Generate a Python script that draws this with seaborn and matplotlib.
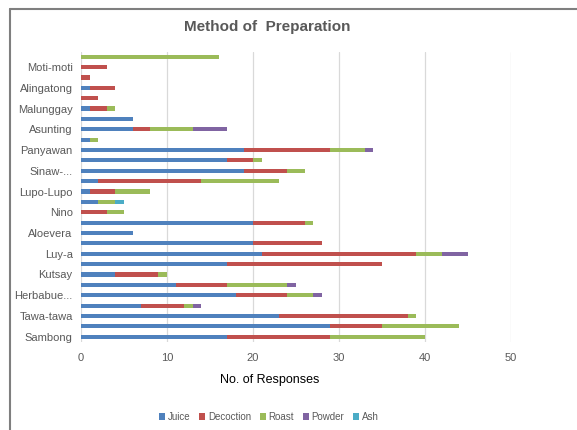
import numpy as np
import pandas as pd
import matplotlib
matplotlib.use("Agg")
import matplotlib.pyplot as plt
from matplotlib.lines import Line2D
from matplotlib.patches import Patch
import seaborn as sns

# Plant rows, listed bottom to top; only every other row carries a label
plant_labels = [
    "Sambong", "", "Tawa-tawa", "", "Herbabue...", "", "Kutsay", "",
    "Luy-a", "", "Aloevera", "", "Nino", "", "Lupo-Lupo", "", "Sinaw-...", "",
    "Panyawan", "", "Asunting", "", "Malunggay", "", "Alingatong", "",
    "Moti-moti", "",
]

# Number of responses per preparation method (same row order as above)
juice = [17, 29, 23, 7, 18, 11, 4, 17, 21, 20, 6, 20, 0, 2, 1, 2, 19, 17,
         19, 1, 6, 6, 1, 0, 1, 0, 0, 0]
decoction = [12, 6, 15, 5, 6, 6, 5, 18, 18, 8, 0, 6, 3, 0, 3, 12, 5, 3,
             10, 0, 2, 0, 2, 2, 3, 1, 3, 0]
roast = [11, 9, 1, 1, 3, 7, 1, 0, 3, 0, 0, 1, 2, 2, 4, 9, 2, 1,
         4, 1, 5, 0, 1, 0, 0, 0, 0, 16]
powder = [0, 0, 0, 1, 1, 1, 0, 0, 3, 0, 0, 0, 0, 0, 0, 0, 0, 0,
          1, 0, 4, 0, 0, 0, 0, 0, 0, 0]
ash = [0, 0, 0, 0, 0, 0, 0, 0, 0, 0, 0, 0, 0, 1, 0, 0, 0, 0,
       0, 0, 0, 0, 0, 0, 0, 0, 0, 0]

methods = ["Juice", "Decoction", "Roast", "Powder", "Ash"]
colors = ["#4F81BD", "#C0504D", "#9BBB59", "#8064A2", "#4BACC6"]
text_gray = "#595959"

series = [juice, decoction, roast, powder, ash]
rows = [str(i) for i in range(len(plant_labels))]
# Top row first so that the bottom row ends up at the bottom of the axis
order = rows[::-1]

cum = np.cumsum(np.array(series, dtype=float), axis=0)
df = pd.DataFrame({"row": rows})
for m, c in zip(methods, cum):
    df[m] = c

sns.set_theme(style="white")
plt.rcParams["font.family"] = ["Liberation Sans", "DejaVu Sans"]

fig = plt.figure(figsize=(5.77, 4.30), dpi=100)
ax = fig.add_axes([81 / 577, 1 - 341.9 / 430, 430 / 577, 290.4 / 430])

# Stacked bars: draw cumulative totals from the outermost segment inward
for m, col in reversed(list(zip(methods, colors))):
    sns.barplot(data=df, x=m, y="row", order=order, orient="h",
                color=col, width=0.4, saturation=1, ax=ax, linewidth=0)

ax.set_xlim(0, 50)
ax.set_xticks(range(0, 51, 10))
ax.set_yticks(range(len(order)))
ax.set_yticklabels(plant_labels[::-1])
ax.set_xlabel("")
ax.set_ylabel("")
ax.xaxis.grid(True, color="#D9D9D9", linewidth=0.9)
ax.set_axisbelow(True)
for s in ax.spines.values():
    s.set_visible(False)
ax.tick_params(axis="both", length=0, colors=text_gray, labelsize=8)
ax.tick_params(axis="x", pad=8)
ax.tick_params(axis="y", pad=6)

fig.text(267 / 577, 1 - 27 / 430, "Method of  Preparation", ha="center",
         va="center", fontsize=11, fontweight="bold", color=text_gray)
fig.text(270 / 577, 1 - 380 / 430, "No. of Responses", ha="center",
         va="center", fontsize=9, color="black")

handles = [Patch(facecolor=c, edgecolor="none") for c in colors]
fig.legend(handles, methods, loc="center", bbox_to_anchor=(269 / 577, 1 - 417 / 430),
           ncol=5, frameon=False, fontsize=7, handlelength=0.6, handleheight=0.6,
           handletextpad=0.3, columnspacing=0.9, labelcolor=text_gray)

# Chart border
border = dict(color="#7F7F7F", linewidth=1.5, transform=fig.transFigure)
fig.add_artist(Line2D([10 / 577, 10 / 577], [0, 1 - 9 / 430], **border))
fig.add_artist(Line2D([10 / 577, 1], [1 - 9 / 430, 1 - 9 / 430], **border))

fig.savefig("out.png", dpi=100)
